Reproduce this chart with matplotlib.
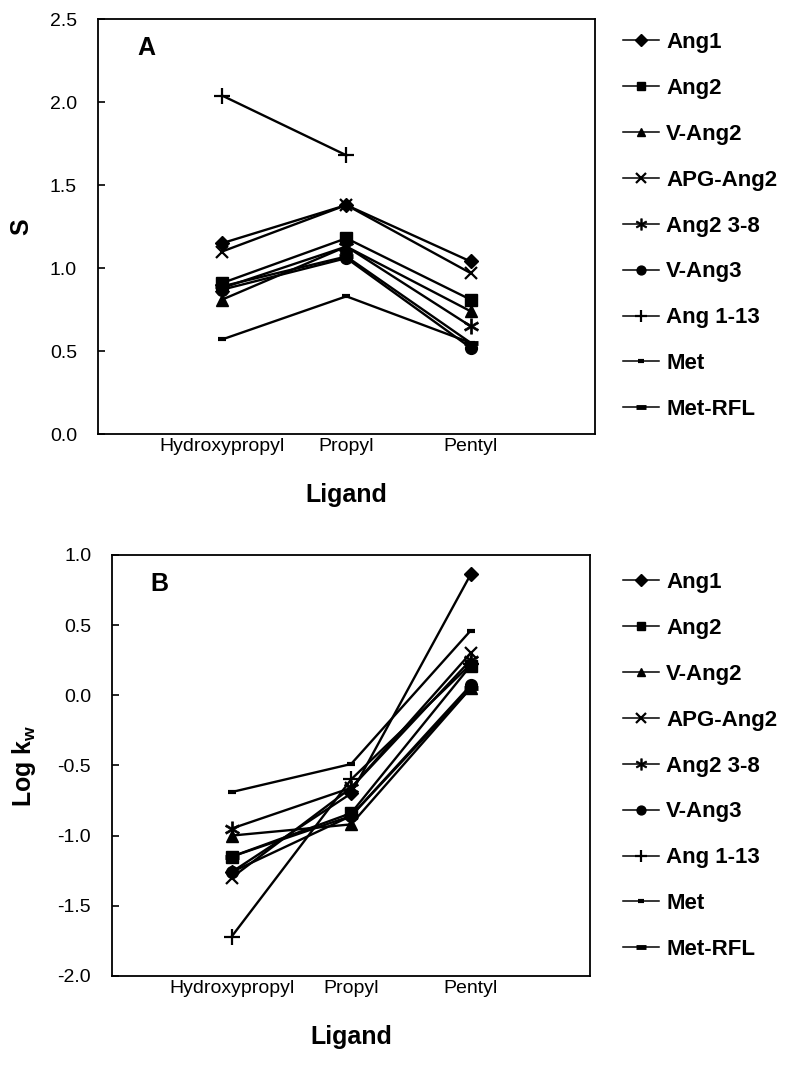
import numpy as np
import matplotlib.pyplot as plt
from matplotlib.lines import Line2D

plt.rcParams['font.family'] = ['Liberation Sans', 'DejaVu Sans']

ligands = ["Hydroxypropyl", "Propyl", "Pentyl"]
peptides = ["Ang1", "Ang2", "V-Ang2", "APG-Ang2", "Ang2 3-8",
            "V-Ang3", "Ang 1-13", "Met", "Met-RFL"]

# S values (panel A), one list per peptide, in ligand order
s_ang1 = [1.15, 1.38, 1.04]
s_ang2 = [0.91, 1.18, 0.81]
s_vang2 = [0.81, 1.13, 0.74]
s_apg = [1.10, 1.38, 0.97]
s_ang2_38 = [0.88, 1.13, 0.65]
s_vang3 = [0.87, 1.06, 0.52]
s_ang113 = [2.04, 1.68, np.nan]
s_met = [0.57, 0.83, 0.55]
s_metrfl = [0.89, 1.07, 0.55]

# log kw values (panel B)
k_ang1 = [-1.26, -0.70, 0.86]
k_ang2 = [-1.15, -0.84, 0.21]
k_vang2 = [-1.00, -0.92, 0.05]
k_apg = [-1.30, -0.66, 0.30]
k_ang2_38 = [-0.95, -0.66, 0.25]
k_vang3 = [-1.26, -0.86, 0.07]
k_ang113 = [-1.72, -0.60, 0.22]
k_met = [-0.69, -0.49, 0.46]
k_metrfl = [-1.15, -0.86, 0.05]

s_data = [s_ang1, s_ang2, s_vang2, s_apg, s_ang2_38, s_vang3, s_ang113, s_met, s_metrfl]
k_data = [k_ang1, k_ang2, k_vang2, k_apg, k_ang2_38, k_vang3, k_ang113, k_met, k_metrfl]

# marker style per peptide: (marker, size, edge width)
styles = [("D", 7.5, 1), ("s", 8.5, 1), ("^", 8.5, 1), ("x", 9, 1.6), (r"$\ast$", 11, 0.5),
          ("o", 8.5, 1), ("+", 11, 1.6), ("_", 6, 3), ("_", 10, 3.5)]

fig = plt.figure(figsize=(7.89, 10.69), dpi=100)


def draw_panel(rect, data, ylim, yticks, ylabel, label_x, letter, leg_top):
    ax = fig.add_axes(rect)
    x = np.arange(1, len(ligands) + 1)
    handles = []
    for name, vals, (m, ms, mew) in zip(peptides, data, styles):
        ax.plot(x, vals, color="black", linewidth=1.7, marker=m,
                markersize=ms, markeredgewidth=mew,
                markerfacecolor="black", markeredgecolor="black", label=name)
        handles.append(Line2D([0], [0], color="black", linewidth=1.1, marker=m,
                              markersize=ms * 0.75, markeredgewidth=mew,
                              markerfacecolor="black", markeredgecolor="black"))
    ax.set_xlim(0, 4)
    ax.set_ylim(*ylim)
    ax.set_xticks(x)
    ax.set_xticklabels(ligands, fontsize=14)
    ax.set_yticks(yticks)
    ax.set_yticklabels([f"{t:.1f}" for t in yticks], fontsize=14)
    ax.tick_params(axis="y", direction="in", length=5, width=1.2, pad=15)
    ax.tick_params(axis="x", length=0, pad=3)
    for sp in ax.spines.values():
        sp.set_linewidth(1.3)
    ax.set_xlabel("Ligand", fontsize=18, fontweight="bold", labelpad=20)
    ax.set_ylabel(ylabel, fontsize=18, fontweight="bold")
    ax.yaxis.set_label_coords(label_x, 0.5)
    ax.text(0.08, 0.93, letter, transform=ax.transAxes, fontsize=18,
            fontweight="bold", va="center", ha="left")
    ax.legend(handles, peptides, loc="upper left",
              bbox_to_anchor=(623 / 789, leg_top), bbox_transform=fig.transFigure,
              frameon=False, handlelength=1.6, handletextpad=0.35,
              labelspacing=1.12, borderaxespad=0, borderpad=0,
              prop={"weight": "bold", "size": 16})
    return ax


draw_panel([0.124, 0.594, 0.630, 0.388], s_data, (0.0, 2.5),
           np.arange(0, 2.51, 0.5), "S", -0.13, "A", 1 - 32 / 1069)
draw_panel([0.142, 0.087, 0.606, 0.394], k_data, (-2.0, 1.0),
           np.arange(-2.0, 1.01, 0.5), r"Log k$_{\mathregular{w}}$", -0.155, "B",
           1 - 572 / 1069)

plt.savefig("out.png", dpi=100)
